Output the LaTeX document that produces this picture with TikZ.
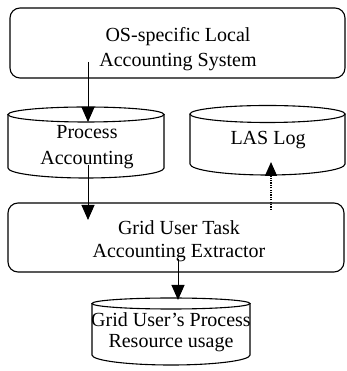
\documentclass[tikz,border=0pt]{standalone}
\usepackage{fontspec}
\setmainfont{Liberation Serif}
\usetikzlibrary{arrows.meta}
\tikzset{
  box/.style={draw, line width=1.1pt, rounded corners=10pt, inner sep=0pt},
  lbl/.style={font=\fontsize{20}{24}\selectfont, anchor=base, inner sep=0pt},
  cyl/.style={draw, line width=1.1pt},
  conn/.style={line width=1pt, -{Triangle[width=13pt,length=15pt]}},
  dconn/.style={line width=1.4pt, dash pattern=on 1.2pt off 1.2pt, -{Triangle[width=12pt,length=14pt]}}
}
\begin{document}
\begin{tikzpicture}[x=1pt,y=1pt]
\useasboundingbox (0,0) rectangle (346,371);
% top box
\node[box, minimum width=335pt, minimum height=70pt] (las) at (177.5,328) {};
\node[lbl] (lasA) at (178,329) {OS-specific Local};
\node[lbl] (lasB) at (178,304) {Accounting System};
% cylinder 1
\draw[cyl] (86,256.5) ellipse[x radius=78pt, y radius=7.5pt];
\draw[cyl] (8,256.5) -- (8,203) arc[start angle=180,end angle=360,x radius=78pt,y radius=10pt] -- (164,256.5);
\coordinate (pa) at (88,249);
\node[lbl] (paA) at (87,232) {Process};
\node[lbl] (paB) at (87,206) {Accounting};
% cylinder 2
\draw[cyl] (267.5,257) ellipse[x radius=77.5pt, y radius=8.5pt];
\draw[cyl] (190,257) -- (190,207) arc[start angle=180,end angle=360,x radius=77.5pt,y radius=11pt] -- (345,257);
\coordinate (log) at (271,209);
\node[lbl] (logA) at (268,226) {LAS Log};
% box 3
\node[box, minimum width=336pt, minimum height=69pt] (ext) at (176,133.5) {};
\node[lbl] (extA) at (179,136) {Grid User Task};
\node[lbl] (extB) at (179,113) {Accounting Extractor};
% cylinder 3
\draw[cyl] (171,67.5) ellipse[x radius=79pt, y radius=5.5pt];
\draw[cyl] (92,67.5) -- (92,16) arc[start angle=180,end angle=360,x radius=79pt,y radius=10pt] -- (250,67.5);
\coordinate (gu) at (178,71);
\node[lbl] (guA) at (171,44) {Grid User's Process};
\node[lbl] (guB) at (171,23) {Resource usage};
% connectors
\coordinate (s1) at (88,309);
\coordinate (s2) at (88,206);
\coordinate (t2) at (88,151);
\coordinate (s3) at (178,112);
\coordinate (s4) at (271,161);
\draw[conn] (s1) -- (pa);
\draw[conn] (s2) -- (t2);
\draw[conn] (s3) -- (gu);
\draw[dconn] (s4) -- (log);
\end{tikzpicture}
\end{document}
